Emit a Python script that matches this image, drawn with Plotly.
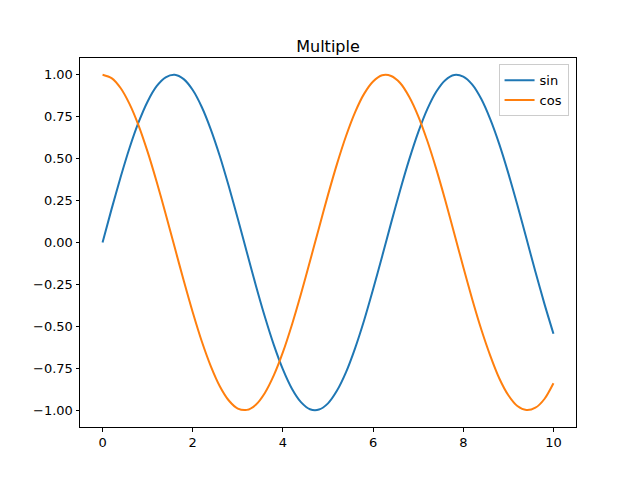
import plotly.graph_objects as go

x_vals = [round(i * 0.2, 1) for i in range(51)]
sin_vals = [0.000, 0.199, 0.389, 0.565, 0.717, 0.841, 0.932, 0.985, 1.000, 0.974,
            0.909, 0.808, 0.675, 0.516, 0.335, 0.141, -0.058, -0.256, -0.443, -0.612,
            -0.757, -0.872, -0.952, -0.994, -0.996, -0.959, -0.883, -0.773, -0.631, -0.465,
            -0.279, -0.083, 0.117, 0.312, 0.494, 0.657, 0.794, 0.899, 0.968, 0.999,
            0.989, 0.941, 0.855, 0.734, 0.585, 0.412, 0.223, 0.025, -0.174, -0.366,
            -0.544]
cos_vals = [1.000, 0.980, 0.921, 0.825, 0.697, 0.540, 0.362, 0.170, -0.029, -0.227,
            -0.416, -0.589, -0.737, -0.857, -0.942, -0.990, -0.998, -0.967, -0.897, -0.791,
            -0.654, -0.490, -0.307, -0.112, 0.087, 0.284, 0.469, 0.635, 0.776, 0.886,
            0.960, 0.997, 0.993, 0.951, 0.869, 0.754, 0.608, 0.439, 0.252, 0.054,
            -0.146, -0.340, -0.519, -0.676, -0.811, -0.911, -0.975, -0.999, -0.985, -0.933,
            -0.839]
x_ticks = [0, 2, 4, 6, 8, 10]
y_ticks = [-1.0, -0.75, -0.5, -0.25, 0.0, 0.25, 0.5, 0.75, 1.0]
y_tick_text = ["−1.00", "−0.75", "−0.50", "−0.25", "0.00", "0.25", "0.50", "0.75", "1.00"]

fig = go.Figure()
fig.add_trace(go.Scatter(x=x_vals, y=sin_vals, mode="lines", name="sin",
                         line=dict(color="#1f77b4", width=2, shape="spline", smoothing=0.8)))
fig.add_trace(go.Scatter(x=x_vals, y=cos_vals, mode="lines", name="cos",
                         line=dict(color="#ff7f0e", width=2, shape="spline", smoothing=0.8)))

axis_common = dict(showgrid=False, zeroline=False, showline=True, linecolor="black",
                   linewidth=1, mirror=True, ticks="outside", ticklen=3.5,
                   tickcolor="black", tickfont=dict(size=13, color="black"))

fig.update_layout(
    width=640, height=480,
    margin=dict(l=80, r=64, t=58, b=53),
    paper_bgcolor="white", plot_bgcolor="white",
    font=dict(family="DejaVu Sans", color="black"),
    title=dict(text="Multiple", x=0.5, xref="paper", xanchor="center",
               y=1, yref="paper", yanchor="bottom", pad=dict(b=6),
               font=dict(size=16, color="black")),
    xaxis=dict(range=[-0.5, 10.5], tickvals=x_ticks, **axis_common),
    yaxis=dict(range=[-1.1, 1.1], tickvals=y_ticks, ticktext=y_tick_text, **axis_common),
    legend=dict(x=0.985, y=0.983, xanchor="right", yanchor="top",
                bgcolor="rgba(255,255,255,0.8)", bordercolor="#cccccc", borderwidth=1,
                font=dict(size=13), itemwidth=30, tracegroupgap=0),
    showlegend=True,
)

fig.write_html("out.html")
